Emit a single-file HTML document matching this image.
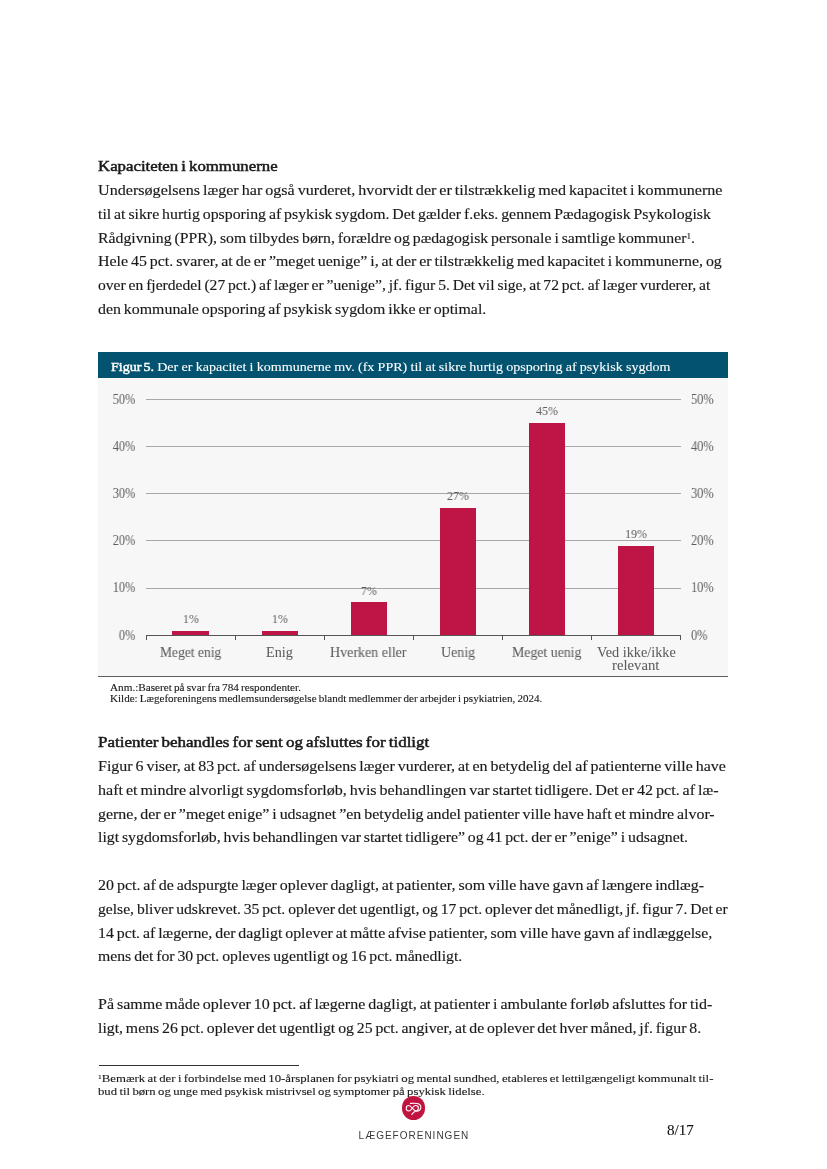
<!DOCTYPE html>
<html><head><meta charset="utf-8"><style>
html,body{margin:0;padding:0;background:#fff;}
body{width:827px;height:1169px;position:relative;overflow:hidden;font-family:'Liberation Serif', serif;}
.l{position:absolute;white-space:nowrap;line-height:20px;transform-origin:0 50%;will-change:transform;}
.sb{-webkit-text-stroke:0.45px #fff;word-spacing:-1.5px}
sup{font-size:0.58em;vertical-align:0.42em;line-height:0}
#titlebar{position:absolute;left:98.2px;top:352.3px;width:630px;height:26px;background:#03526f}
#plot{position:absolute;left:98.2px;top:378.3px;width:630px;height:297.3px;background:#f7f7f7;border-bottom:1.4px solid #5f5f5f}
#sep{position:absolute;left:98.5px;top:1064.8px;width:200px;height:1.2px;background:#333}
#logo{position:absolute;left:401.5px;top:1096.3px;width:23.8px;height:23.8px;border-radius:50%;background:#c2123f}
#brand{position:absolute;left:358.6px;top:1130.3px;font-family:'Liberation Sans',sans-serif;font-size:10px;letter-spacing:1.0px;color:#3a3a3a;line-height:12px;white-space:nowrap}
</style></head><body>
<div id=titlebar></div>
<div id=plot></div>
<div style='position:absolute;left:146.0px;top:587.60px;width:534.6px;height:1px;background:#a8a8a8'></div><div style='position:absolute;left:146.0px;top:540.40px;width:534.6px;height:1px;background:#a8a8a8'></div><div style='position:absolute;left:146.0px;top:493.20px;width:534.6px;height:1px;background:#a8a8a8'></div><div style='position:absolute;left:146.0px;top:446.00px;width:534.6px;height:1px;background:#a8a8a8'></div><div style='position:absolute;left:146.0px;top:398.80px;width:534.6px;height:1px;background:#a8a8a8'></div><div class=l style='left:0;width:135.3px;text-align:right;top:625.61px;font-size:13.6px;color:#5c5c5c;transform-origin:135.3px 50%;transform:scaleX(0.91)'>0%</div><div class=l style='left:691.2px;top:625.61px;font-size:13.6px;color:#5c5c5c;transform:scaleX(0.91)'>0%</div><div class=l style='left:0;width:135.3px;text-align:right;top:578.41px;font-size:13.6px;color:#5c5c5c;transform-origin:135.3px 50%;transform:scaleX(0.91)'>10%</div><div class=l style='left:691.2px;top:578.41px;font-size:13.6px;color:#5c5c5c;transform:scaleX(0.91)'>10%</div><div class=l style='left:0;width:135.3px;text-align:right;top:531.21px;font-size:13.6px;color:#5c5c5c;transform-origin:135.3px 50%;transform:scaleX(0.91)'>20%</div><div class=l style='left:691.2px;top:531.21px;font-size:13.6px;color:#5c5c5c;transform:scaleX(0.91)'>20%</div><div class=l style='left:0;width:135.3px;text-align:right;top:484.01px;font-size:13.6px;color:#5c5c5c;transform-origin:135.3px 50%;transform:scaleX(0.91)'>30%</div><div class=l style='left:691.2px;top:484.01px;font-size:13.6px;color:#5c5c5c;transform:scaleX(0.91)'>30%</div><div class=l style='left:0;width:135.3px;text-align:right;top:436.81px;font-size:13.6px;color:#5c5c5c;transform-origin:135.3px 50%;transform:scaleX(0.91)'>40%</div><div class=l style='left:691.2px;top:436.81px;font-size:13.6px;color:#5c5c5c;transform:scaleX(0.91)'>40%</div><div class=l style='left:0;width:135.3px;text-align:right;top:389.61px;font-size:13.6px;color:#5c5c5c;transform-origin:135.3px 50%;transform:scaleX(0.91)'>50%</div><div class=l style='left:691.2px;top:389.61px;font-size:13.6px;color:#5c5c5c;transform:scaleX(0.91)'>50%</div><div style='position:absolute;left:172.45px;top:630.58px;width:36.2px;height:4.72px;background:#be1446'></div><div class=l style='left:150.55px;width:80px;text-align:center;top:608.86px;font-size:13.4px;color:#5c5c5c;transform-origin:50% 50%;transform:scaleX(0.9)'>1%</div><div style='position:absolute;left:261.55px;top:630.58px;width:36.2px;height:4.72px;background:#be1446'></div><div class=l style='left:239.65px;width:80px;text-align:center;top:608.86px;font-size:13.4px;color:#5c5c5c;transform-origin:50% 50%;transform:scaleX(0.9)'>1%</div><div style='position:absolute;left:350.65px;top:602.26px;width:36.2px;height:33.04px;background:#be1446'></div><div class=l style='left:328.75px;width:80px;text-align:center;top:580.54px;font-size:13.4px;color:#5c5c5c;transform-origin:50% 50%;transform:scaleX(0.9)'>7%</div><div style='position:absolute;left:439.75px;top:507.86px;width:36.2px;height:127.44px;background:#be1446'></div><div class=l style='left:417.85px;width:80px;text-align:center;top:486.14px;font-size:13.4px;color:#5c5c5c;transform-origin:50% 50%;transform:scaleX(0.9)'>27%</div><div style='position:absolute;left:528.85px;top:422.90px;width:36.2px;height:212.40px;background:#be1446'></div><div class=l style='left:506.95px;width:80px;text-align:center;top:401.18px;font-size:13.4px;color:#5c5c5c;transform-origin:50% 50%;transform:scaleX(0.9)'>45%</div><div style='position:absolute;left:617.95px;top:545.62px;width:36.2px;height:89.68px;background:#be1446'></div><div class=l style='left:596.05px;width:80px;text-align:center;top:523.90px;font-size:13.4px;color:#5c5c5c;transform-origin:50% 50%;transform:scaleX(0.9)'>19%</div><div style='position:absolute;left:145.50px;top:635.30px;width:1.1px;height:4.5px;background:#555'></div><div style='position:absolute;left:234.60px;top:635.30px;width:1.1px;height:4.5px;background:#555'></div><div style='position:absolute;left:323.70px;top:635.30px;width:1.1px;height:4.5px;background:#555'></div><div style='position:absolute;left:412.80px;top:635.30px;width:1.1px;height:4.5px;background:#555'></div><div style='position:absolute;left:501.90px;top:635.30px;width:1.1px;height:4.5px;background:#555'></div><div style='position:absolute;left:591.00px;top:635.30px;width:1.1px;height:4.5px;background:#555'></div><div style='position:absolute;left:680.10px;top:635.30px;width:1.1px;height:4.5px;background:#555'></div><div style='position:absolute;left:145.5px;top:634.70px;width:535.6px;height:1.3px;background:#555'></div>
<div class=l style="left:97.7px;top:156.14px;font-size:15.0px;color:#1a1a1a;word-spacing:-1.0px;-webkit-text-stroke:0.5px currentColor;transform:scaleX(1.1194)">Kapaciteten i kommunerne</div><div class=l style="left:97.7px;top:179.94px;font-size:15.0px;color:#1a1a1a;word-spacing:-1.0px;-webkit-text-stroke:0.15px currentColor;transform:scaleX(1.0738)">Undersøgelsens læger har også vurderet, hvorvidt der er tilstrækkelig med kapacitet i kommunerne</div><div class=l style="left:97.7px;top:203.74px;font-size:15.0px;color:#1a1a1a;word-spacing:-1.0px;-webkit-text-stroke:0.15px currentColor;transform:scaleX(1.0547)">til at sikre hurtig opsporing af psykisk sygdom. Det gælder f.eks. gennem Pædagogisk Psykologisk</div><div class=l style="left:97.7px;top:227.54px;font-size:15.0px;color:#1a1a1a;word-spacing:-1.0px;-webkit-text-stroke:0.15px currentColor;transform:scaleX(1.0519)">Rådgivning (PPR), som tilbydes børn, forældre og pædagogisk personale i samtlige kommuner<sup>1</sup>.</div><div class=l style="left:97.7px;top:251.34px;font-size:15.0px;color:#1a1a1a;word-spacing:-1.0px;-webkit-text-stroke:0.15px currentColor;transform:scaleX(1.0612)">Hele 45 pct. svarer, at de er ”meget uenige” i, at der er tilstrækkelig med kapacitet i kommunerne, og</div><div class=l style="left:97.7px;top:275.14px;font-size:15.0px;color:#1a1a1a;word-spacing:-1.0px;-webkit-text-stroke:0.15px currentColor;transform:scaleX(1.0396)">over en fjerdedel (27 pct.) af læger er ”uenige”, jf. figur 5. Det vil sige, at 72 pct. af læger vurderer, at</div><div class=l style="left:97.7px;top:298.94px;font-size:15.0px;color:#1a1a1a;word-spacing:-1.0px;-webkit-text-stroke:0.15px currentColor;transform:scaleX(1.0594)">den kommunale opsporing af psykisk sygdom ikke er optimal.</div><div class=l style="left:97.7px;top:731.94px;font-size:15.0px;color:#1a1a1a;word-spacing:-1.0px;-webkit-text-stroke:0.5px currentColor;transform:scaleX(1.1326)">Patienter behandles for sent og afsluttes for tidligt</div><div class=l style="left:97.7px;top:755.94px;font-size:15.0px;color:#1a1a1a;word-spacing:-1.0px;-webkit-text-stroke:0.15px currentColor;transform:scaleX(1.0642)">Figur 6 viser, at 83 pct. af undersøgelsens læger vurderer, at en betydelig del af patienterne ville have</div><div class=l style="left:97.7px;top:779.74px;font-size:15.0px;color:#1a1a1a;word-spacing:-1.0px;-webkit-text-stroke:0.15px currentColor;transform:scaleX(1.0718)">haft et mindre alvorligt sygdomsforløb, hvis behandlingen var startet tidligere. Det er 42 pct. af læ-</div><div class=l style="left:97.7px;top:803.54px;font-size:15.0px;color:#1a1a1a;word-spacing:-1.0px;-webkit-text-stroke:0.15px currentColor;transform:scaleX(1.0623)">gerne, der er ”meget enige” i udsagnet ”en betydelig andel patienter ville have haft et mindre alvor-</div><div class=l style="left:97.7px;top:827.34px;font-size:15.0px;color:#1a1a1a;word-spacing:-1.0px;-webkit-text-stroke:0.15px currentColor;transform:scaleX(1.0529)">ligt sygdomsforløb, hvis behandlingen var startet tidligere” og 41 pct. der er ”enige” i udsagnet.</div><div class=l style="left:97.7px;top:874.94px;font-size:15.0px;color:#1a1a1a;word-spacing:-1.0px;-webkit-text-stroke:0.15px currentColor;transform:scaleX(1.0646)">20 pct. af de adspurgte læger oplever dagligt, at patienter, som ville have gavn af længere indlæg-</div><div class=l style="left:97.7px;top:898.74px;font-size:15.0px;color:#1a1a1a;word-spacing:-1.0px;-webkit-text-stroke:0.15px currentColor;transform:scaleX(1.0421)">gelse, bliver udskrevet. 35 pct. oplever det ugentligt, og 17 pct. oplever det månedligt, jf. figur 7. Det er</div><div class=l style="left:97.7px;top:922.54px;font-size:15.0px;color:#1a1a1a;word-spacing:-1.0px;-webkit-text-stroke:0.15px currentColor;transform:scaleX(1.0563)">14 pct. af lægerne, der dagligt oplever at måtte afvise patienter, som ville have gavn af indlæggelse,</div><div class=l style="left:97.7px;top:946.34px;font-size:15.0px;color:#1a1a1a;word-spacing:-1.0px;-webkit-text-stroke:0.15px currentColor;transform:scaleX(1.0498)">mens det for 30 pct. opleves ugentligt og 16 pct. månedligt.</div><div class=l style="left:97.7px;top:993.94px;font-size:15.0px;color:#1a1a1a;word-spacing:-1.0px;-webkit-text-stroke:0.15px currentColor;transform:scaleX(1.0674)">På samme måde oplever 10 pct. af lægerne dagligt, at patienter i ambulante forløb afsluttes for tid-</div><div class=l style="left:97.7px;top:1017.74px;font-size:15.0px;color:#1a1a1a;word-spacing:-1.0px;-webkit-text-stroke:0.15px currentColor;transform:scaleX(1.0515)">ligt, mens 26 pct. oplever det ugentligt og 25 pct. angiver, at de oplever det hver måned, jf. figur 8.</div><div class=l style="left:98.0px;top:1067.85px;font-size:11.4px;color:#1a1a1a;word-spacing:-0.7px;-webkit-text-stroke:0.12px currentColor;transform:scaleX(1.1232)"><sup class=fs>1</sup>Bemærk at der i forbindelse med 10-årsplanen for psykiatri og mental sundhed, etableres et lettilgængeligt kommunalt til-</div><div class=l style="left:98.0px;top:1080.55px;font-size:11.4px;color:#1a1a1a;word-spacing:-0.7px;-webkit-text-stroke:0.12px currentColor;transform:scaleX(1.1144)">bud til børn og unge med psykisk mistrivsel og symptomer på psykisk lidelse.</div><div class=l style="left:110.0px;top:678.39px;font-size:10.4px;color:#1a1a1a;word-spacing:-0.6px;-webkit-text-stroke:0.12px currentColor;transform:scaleX(1.0770)">Anm.:Baseret på svar fra 784 respondenter.</div><div class=l style="left:110.0px;top:689.09px;font-size:10.4px;color:#1a1a1a;word-spacing:-0.6px;-webkit-text-stroke:0.12px currentColor;transform:scaleX(1.0654)">Kilde: Lægeforeningens medlemsundersøgelse blandt medlemmer der arbejder i psykiatrien, 2024.</div><div class=l style="left:110.6px;top:356.68px;font-size:13.4px;color:#ffffff;word-spacing:-0.3px;-webkit-text-stroke:0.1px currentColor;transform:scaleX(1.0508)"><span class=sb>Figur 5.</span> Der er kapacitet i kommunerne mv. (fx PPR) til at sikre hurtig opsporing af psykisk sygdom</div><div class=l style="left:667.0px;top:1120.14px;font-size:15px;color:#111;word-spacing:0px;-webkit-text-stroke:0.1px currentColor;transform:scaleX(1.0086)">8/17</div><div class=l style="left:160.1px;top:641.51px;font-size:14.2px;color:#5c5c5c;word-spacing:0px;-webkit-text-stroke:0.05px currentColor;transform:scaleX(0.9545)">Meget enig</div><div class=l style="left:266.4px;top:641.51px;font-size:14.2px;color:#5c5c5c;word-spacing:0px;-webkit-text-stroke:0.05px currentColor;transform:scaleX(1.0038)">Enig</div><div class=l style="left:330.2px;top:641.51px;font-size:14.2px;color:#5c5c5c;word-spacing:0px;-webkit-text-stroke:0.05px currentColor;transform:scaleX(0.9870)">Hverken eller</div><div class=l style="left:441.4px;top:641.51px;font-size:14.2px;color:#5c5c5c;word-spacing:0px;-webkit-text-stroke:0.05px currentColor;transform:scaleX(0.9831)">Uenig</div><div class=l style="left:512.3px;top:641.51px;font-size:14.2px;color:#5c5c5c;word-spacing:0px;-webkit-text-stroke:0.05px currentColor;transform:scaleX(0.9732)">Meget uenig</div><div class=l style="left:597.2px;top:641.61px;font-size:14.2px;color:#5c5c5c;word-spacing:0px;-webkit-text-stroke:0.05px currentColor;transform:scaleX(1.0050)">Ved ikke/ikke</div><div class=l style="left:612.2px;top:655.41px;font-size:14.2px;color:#5c5c5c;word-spacing:0px;-webkit-text-stroke:0.05px currentColor;transform:scaleX(1.0375)">relevant</div>
<div id=sep></div>
<div id=logo><svg width="23.8" height="23.8" viewBox="0 0 24 24"><path fill="none" stroke="#fff" stroke-width="1.1" stroke-linecap="round" stroke-linejoin="round" d="M8.5 7.4C11 7.2 13.5 7.1 15.4 7.5C17.6 8 19 9.5 19 11.3C19 13.4 17.4 15 15.4 15.3C13.2 15.6 11.6 13.8 10.3 12.3C9.4 11.1 8.4 9.6 7 9.6C5.5 9.6 4.3 10.8 4.3 12.4C4.3 14 5.5 15.2 7 15.2C8.4 15.2 9.4 13.6 10.3 12.3C11.2 11 12.2 9.6 13.6 9.6C15.3 9.6 16.6 10.8 16.6 12.4C16.6 13.7 15.6 14.7 14.2 15.2C12.6 15.7 11.2 16.6 9.9 18.5"/></svg></div>
<div id=brand>LÆGEFORENINGEN</div>
</body></html>
